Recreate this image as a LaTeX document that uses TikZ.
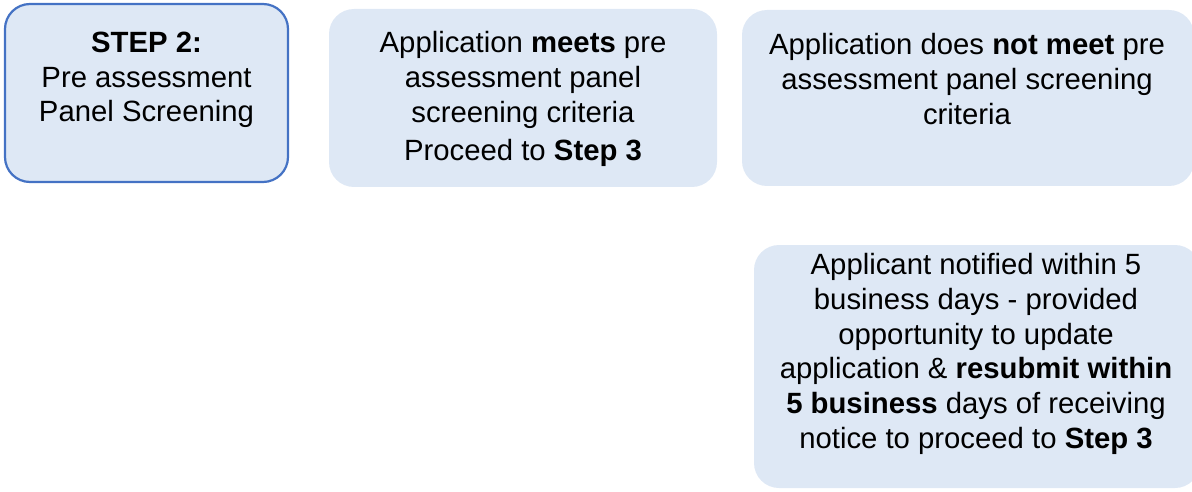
\documentclass[tikz,border=0pt]{standalone}
\usepackage{fontspec}
\setmainfont{Liberation Sans}
\definecolor{boxfill}{HTML}{DEE8F5}
\definecolor{boxline}{HTML}{4472C4}
\tikzset{
  panel/.style={rectangle, fill=boxfill, rounded corners=25pt, inner sep=0pt, outer sep=0pt},
  framed/.style={panel, draw=boxline, line width=2.2pt},
  txt/.style={align=center, inner sep=0pt, font=\fontsize{29.3}{34.8}\selectfont}
}
\begin{document}
\begin{tikzpicture}[x=1pt,y=-1pt]
\useasboundingbox (0,0) rectangle (1192,492);
% boxes
\node[framed, minimum width=283pt, minimum height=178pt] (b1) at (146.5,93) {};
\node[panel, minimum width=388pt, minimum height=178pt] (b2) at (523,98) {};
\node[panel, minimum width=452pt, minimum height=176pt] (b3) at (968,98) {};
\node[panel, minimum width=446pt, minimum height=243pt] (b4) at (977,366.5) {};
% texts
\node[txt] (t1) at (146.5,80) {\textbf{STEP 2:}\\Pre assessment\\Panel Screening};
\node[txt] (t2) at (523,99) {Application \textbf{meets} pre\\assessment panel\\screening criteria\\[3pt]Proceed to \textbf{Step 3}};
\node[txt] (t3) at (967,79) {Application does \textbf{not meet} pre\\assessment panel screening\\criteria};
\node[txt] (t4) at (976,354) {Applicant notified within 5\\business days - provided\\opportunity to update\\application \& \textbf{resubmit within}\\\textbf{5 business} days of receiving\\notice to proceed to \textbf{Step 3}};
\end{tikzpicture}
\end{document}
